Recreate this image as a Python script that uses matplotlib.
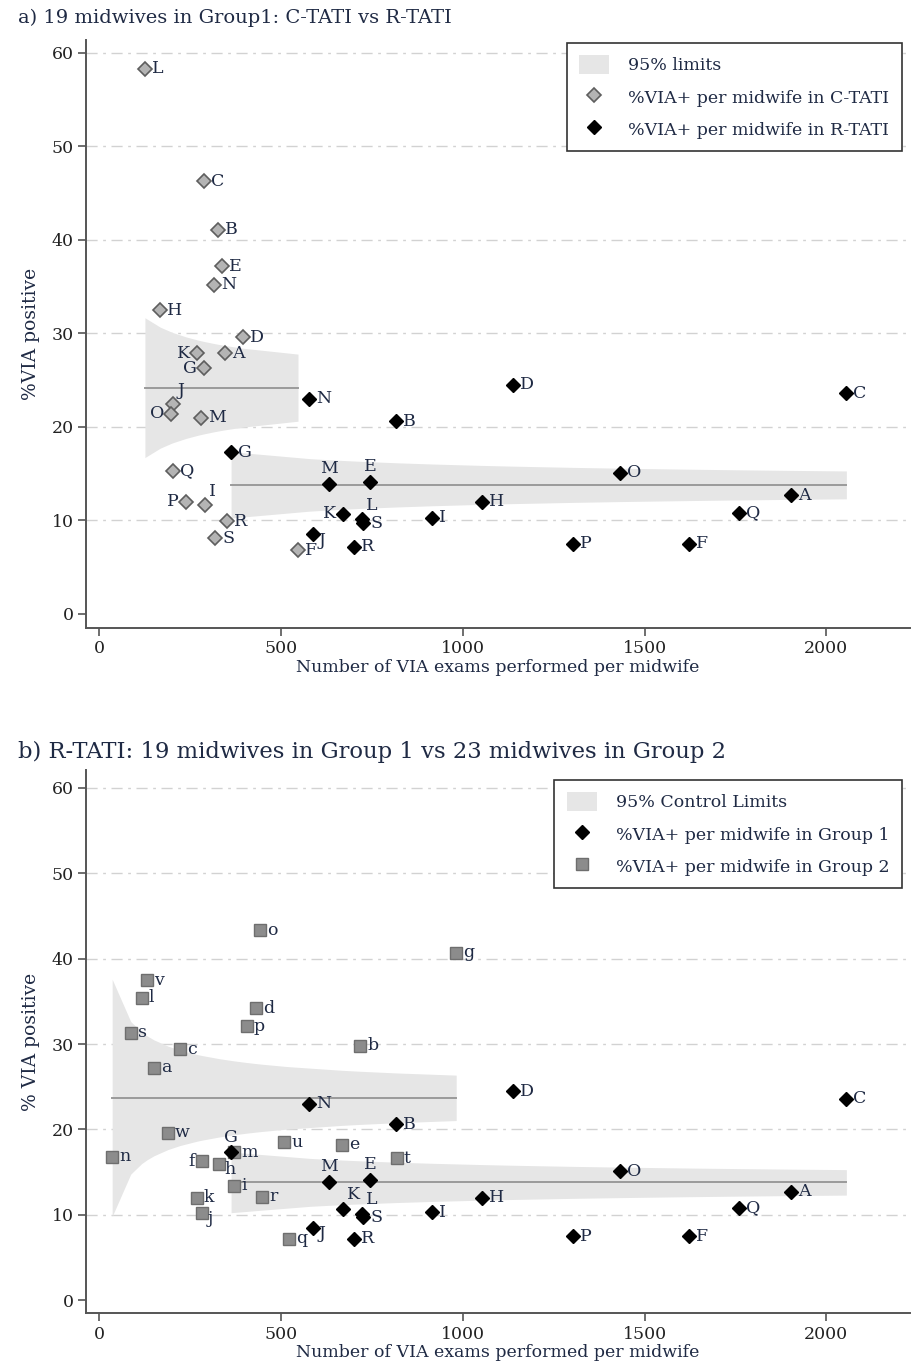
import numpy as np
import matplotlib
matplotlib.use("Agg")
import matplotlib.pyplot as plt
from matplotlib.lines import Line2D
from matplotlib.patches import Patch

# ---- data ----
ctati_id = list("LCBENHDKAGJOMQPIRSF")
ctati_n = [126, 289, 327, 338, 316, 168, 396, 270, 347, 289, 204, 198, 280, 204, 239, 292, 352, 319, 547]
ctati_pct = [58.3, 46.3, 41.1, 37.2, 35.2, 32.5, 29.6, 27.9, 27.9, 26.3, 22.4, 21.4, 21.0, 15.3, 12.0, 11.6, 9.9, 8.1, 6.8]

rtati_id = list("ABCDEFGHIJKLMNOPQRS")
rtati_n = [1903, 817, 2055, 1138, 745, 1623, 363, 1053, 916, 589, 671, 722, 633, 578, 1433, 1304, 1760, 701, 727]
rtati_pct = [12.7, 20.6, 23.6, 24.5, 14.1, 7.5, 17.3, 12.0, 10.3, 8.5, 10.7, 10.1, 13.9, 23.0, 15.1, 7.5, 10.8, 7.2, 9.7]

g2_id = list("abcdefghijklmnopqrstuvw")
g2_n = [151, 718, 223, 431, 668, 283, 982, 330, 371, 283, 269, 117, 371, 36, 443, 406, 523, 448, 87, 819, 509, 131, 190]
g2_pct = [27.2, 29.8, 29.4, 34.2, 18.2, 16.3, 40.7, 16.0, 13.4, 10.2, 12.0, 35.4, 17.3, 16.8, 43.3, 32.1, 7.2, 12.1, 31.3, 16.6, 18.5, 37.5, 19.6]

# overall proportions (centre lines of the funnels), in %
ctati_mean = 24.2
rtati_mean = 13.8
g2_mean = 23.7

# label positions (clock positions, default 3 = right)
pos_ctati = {"K": 9, "G": 9, "J": 1, "O": 9, "P": 9, "I": 1}
pos_rtati_a = {"E": 12, "M": 12, "J": 4, "K": 9, "L": 1}
pos_rtati_b = {"E": 12, "M": 12, "G": 12, "J": 4, "K": 1, "L": 1}
pos_g2 = {"f": 9, "h": 4, "j": 4}

TXT = "#1f2a44"
plt.rcParams["font.family"] = ["DejaVu Serif"]
FS = 12.5

OFFS = {
    3: ((5, 0), "left", "center"),
    9: ((-5, 0), "right", "center"),
    12: ((0, 5), "center", "bottom"),
    1: ((3, 4), "left", "bottom"),
    4: ((4, 2), "left", "top"),
    10: ((-3, 3), "right", "bottom"),
}


def funnel(ax, n, mean):
    # 95% limits around the pooled proportion, evaluated at each midwife's n
    ns = np.unique(n).astype(float)
    p = mean / 100.0
    half = 1.96 * np.sqrt(p * (1 - p) / ns) * 100
    ax.fill_between(ns, mean - half, mean + half, color="#e6e6e6", lw=0, zorder=1)
    ax.plot([ns[0], ns[-1]], [mean, mean], color="#9a9a9a", lw=1.4, zorder=2)


def labels(ax, ids, n, pct, pos):
    for i, x, y in zip(ids, n, pct):
        (dx, dy), ha, va = OFFS[pos.get(i, 3)]
        ax.annotate(i, (x, y), xytext=(dx, dy), textcoords="offset points",
                    ha=ha, va=va, fontsize=FS, color=TXT, zorder=5)


def style(ax, ylabel, ylim):
    ax.set_xlim(-36, 2230)
    ax.set_ylim(*ylim)
    ax.set_xticks([0, 500, 1000, 1500, 2000])
    ax.set_yticks(range(0, 61, 10))
    for yv in range(10, 61, 10):
        ax.axhline(yv, color="#d2d2d2", lw=1, ls=(0, (8, 4, 2, 4)), zorder=0)
    for s in ["top", "right"]:
        ax.spines[s].set_visible(False)
    for s in ["left", "bottom"]:
        ax.spines[s].set_color("#555555")
        ax.spines[s].set_linewidth(1.4)
    ax.tick_params(direction="out", length=6, width=1.2, color="#555555",
                   labelsize=FS, labelcolor="#222222", pad=3)
    ax.set_xlabel("Number of VIA exams performed per midwife", fontsize=12.5, color=TXT, labelpad=1)
    ax.set_ylabel(ylabel, fontsize=13.5, color=TXT, labelpad=8)


def legend(ax, handles, texts, anchor):
    leg = ax.legend(handles, texts, loc="upper right", bbox_to_anchor=anchor,
                    borderaxespad=0, fontsize=FS, fancybox=False, edgecolor="#333333",
                    framealpha=1, handlelength=1.75, handleheight=1.3, handletextpad=1.1,
                    labelspacing=0.75, borderpad=0.7)
    leg.get_frame().set_linewidth(1.2)
    for t in leg.get_texts():
        t.set_color(TXT)


def main() -> None:
    fig = plt.figure(figsize=(9.11, 13.71), dpi=100)
    ax1 = fig.add_axes([0.0944, 0.5420, 0.9045, 0.4289])
    ax2 = fig.add_axes([0.0944, 0.0423, 0.9045, 0.3961])

    # ---- panel a ----
    funnel(ax1, ctati_n, ctati_mean)
    funnel(ax1, rtati_n, rtati_mean)
    ax1.plot(ctati_n, ctati_pct, ls="none", marker="D", ms=6.8, mfc="#b4b4b4",
             mec="#5e5e5e", mew=1.2, zorder=3)
    ax1.plot(rtati_n, rtati_pct, ls="none", marker="D", ms=7, mfc="black",
             mec="black", zorder=4)
    labels(ax1, ctati_id, ctati_n, ctati_pct, pos_ctati)
    labels(ax1, rtati_id, rtati_n, rtati_pct, pos_rtati_a)
    style(ax1, "%VIA positive", (-1.5, 61.4))
    legend(ax1,
           [Patch(facecolor="#e6e6e6", edgecolor="none"),
            Line2D([], [], ls="none", marker="D", ms=6.8, mfc="#b4b4b4", mec="#5e5e5e", mew=1.2),
            Line2D([], [], ls="none", marker="D", ms=7, mfc="black", mec="black")],
           ["95% limits", "%VIA+ per midwife in C-TATI", "%VIA+ per midwife in R-TATI"],
           (0.99, 0.995))

    # ---- panel b ----
    funnel(ax2, g2_n, g2_mean)
    funnel(ax2, rtati_n, rtati_mean)
    ax2.plot(g2_n, g2_pct, ls="none", marker="s", ms=8.6, mfc="#8c8c8c",
             mec="#6e6e6e", mew=1, zorder=3)
    ax2.plot(rtati_n, rtati_pct, ls="none", marker="D", ms=7, mfc="black",
             mec="black", zorder=4)
    labels(ax2, g2_id, g2_n, g2_pct, pos_g2)
    labels(ax2, rtati_id, rtati_n, rtati_pct, pos_rtati_b)
    style(ax2, "% VIA positive", (-1.5, 62.1))
    legend(ax2,
           [Patch(facecolor="#e6e6e6", edgecolor="none"),
            Line2D([], [], ls="none", marker="D", ms=7, mfc="black", mec="black"),
            Line2D([], [], ls="none", marker="s", ms=8.6, mfc="#8c8c8c", mec="#6e6e6e")],
           ["95% Control Limits", "%VIA+ per midwife in Group 1", "%VIA+ per midwife in Group 2"],
           (0.99, 0.9816))

    fig.text(18 / 911, 1 - 18 / 1371, "a) 19 midwives in Group1: C-TATI vs R-TATI",
             fontsize=14, color=TXT, va="center", ha="left")
    fig.text(18 / 911, 1 - 752 / 1371, "b) R-TATI: 19 midwives in Group 1 vs 23 midwives in Group 2",
             fontsize=16.3, color=TXT, va="center", ha="left")

    fig.savefig("out.png", dpi=100)
    plt.close(fig)


if __name__ == "__main__":
    main()
